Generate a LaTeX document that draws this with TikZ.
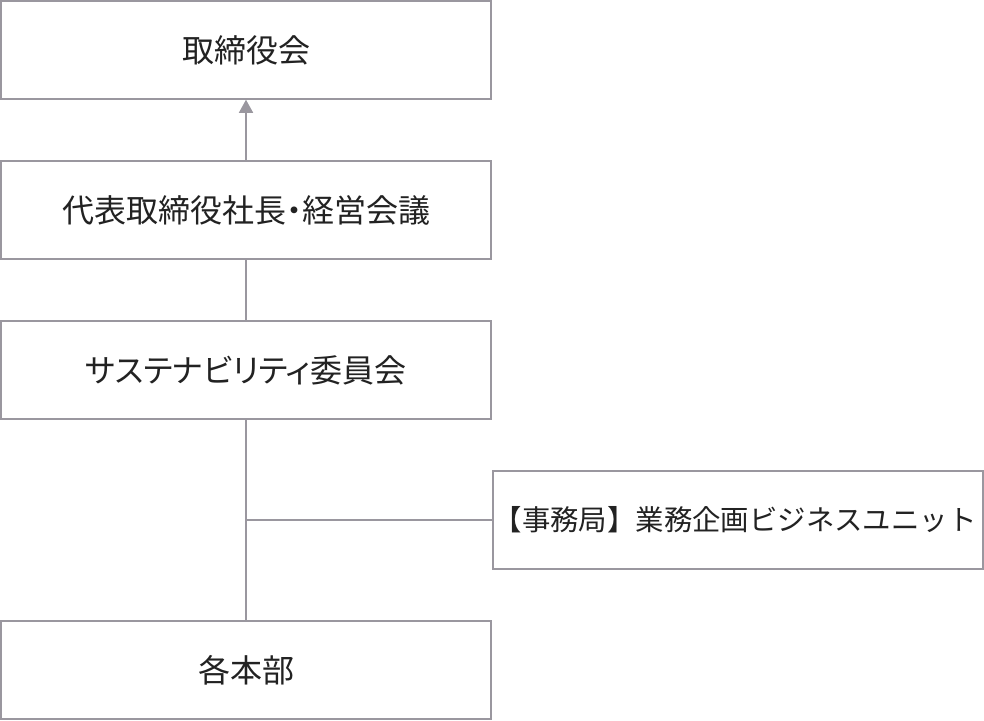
\documentclass[tikz,border=0pt]{standalone}
\usepackage{fontspec}
\setmainfont[RawFeature=+palt]{Noto Sans CJK JP}
\newfontfamily\monojp{Noto Sans CJK JP}
\usetikzlibrary{arrows.meta}
\definecolor{frame}{HTML}{9A979F}
\definecolor{ink}{HTML}{222222}
\tikzset{
    box/.style={
        draw=frame, line width=1.5pt, fill=white, text=ink,
        minimum width=490pt, minimum height=98pt, inner sep=0pt,
        font=\fontsize{32}{38}\selectfont
    },
    subbox/.style={
        box, font=\monojp\fontsize{28.4}{34}\selectfont
    },
    link/.style={
        draw=frame, line width=1.5pt
    }
}

\begin{document}
\begin{tikzpicture}[x=1pt,y=-1pt,line cap=butt,line join=miter]

% --- canvas ---
    \useasboundingbox (0,0) rectangle (984,720);

% boxes (left column)
    \node[box] (board)   at (246, 50)  {取締役会};
    \node[box] (ceo)     at (246,210)  {代表取締役社長・経営会議};
    \node[box] (sus)     at (246,370)  {サステナビリティ委員会};
    \node[box] (depts)   at (246,670)  {各本部};

% secretariat box (right)
    \node[subbox] (office)  at (738,520)  {【事務局】業務企画ビジネスユニット\hspace*{6pt}};

% junction on the trunk
    \coordinate (jct) at (sus.south |- office.west);

% connectors
    \draw[link, -{Triangle[length=13pt,width=14pt]}] (ceo.north) -- (board.south);
    \draw[link] (ceo.south) -- (sus.north);
    \draw[link] (sus.south) -- (depts.north);
    \draw[link] (jct) -- (office.west);

  \end{tikzpicture}
\end{document}
